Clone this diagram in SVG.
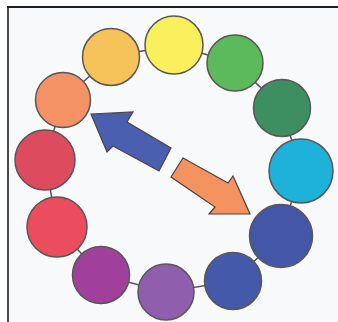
<svg xmlns="http://www.w3.org/2000/svg" width="338" height="322" viewBox="0 0 338 322">
<style>
.c{stroke:#5a5558;stroke-width:1.5}
.k{stroke:#5a5558;stroke-width:1.5;fill:none}
.a{stroke:#4a4448;stroke-width:1.2;stroke-linejoin:miter}
</style>
<rect x="0" y="0" width="338" height="322" fill="#ffffff"/>
<rect x="8" y="7" width="330" height="315" fill="#f8f9fb"/>
<line x1="7" y1="7" x2="338" y2="7" stroke="#1e1e1e" stroke-width="2"/>
<line x1="8" y1="7" x2="8" y2="322" stroke="#1e1e1e" stroke-width="1.6"/>
<g id="connectors">
<polyline class="k" points="174,45 235,63 282,108 301,171 281,236 233,281 166,292 101,275 57,227 45,160 63,100 111,57 174,45"/>
</g>
<g id="c1"><circle class="c" cx="174" cy="45" r="29" fill="#f9ee5c"/></g>
<g id="c2"><circle class="c" cx="235" cy="63" r="28" fill="#5cba5c"/></g>
<g id="c3"><circle class="c" cx="282" cy="108" r="28.5" fill="#3d8f62"/></g>
<g id="c4"><circle class="c" cx="301" cy="171" r="32" fill="#1eb1d9"/></g>
<g id="c5"><circle class="c" cx="281" cy="236" r="31.5" fill="#4356a8"/></g>
<g id="c6"><circle class="c" cx="233" cy="281" r="28.5" fill="#4459aa"/></g>
<g id="c7"><circle class="c" cx="166" cy="292" r="28" fill="#8f5fae"/></g>
<g id="c8"><circle class="c" cx="101" cy="275" r="28.5" fill="#a0409c"/></g>
<g id="c9"><circle class="c" cx="57" cy="227" r="30" fill="#ec4d5e"/></g>
<g id="c10"><circle class="c" cx="45" cy="160" r="30" fill="#dd4c5e"/></g>
<g id="c11"><circle class="c" cx="63" cy="100" r="27.5" fill="#f49266"/></g>
<g id="c12"><circle class="c" cx="111" cy="57" r="28.5" fill="#f6c25a"/></g>
<g id="arrow-blue"><polygon class="a" fill="#4a5fb0" points="91,114 133,112 127,122 171,148 159,171 113,146 107,152"/></g>
<g id="arrow-orange"><polygon class="a" fill="#f4935f" points="183,158 228,183 233,176 250,214 209,214 215,207 171,177"/></g>
</svg>
